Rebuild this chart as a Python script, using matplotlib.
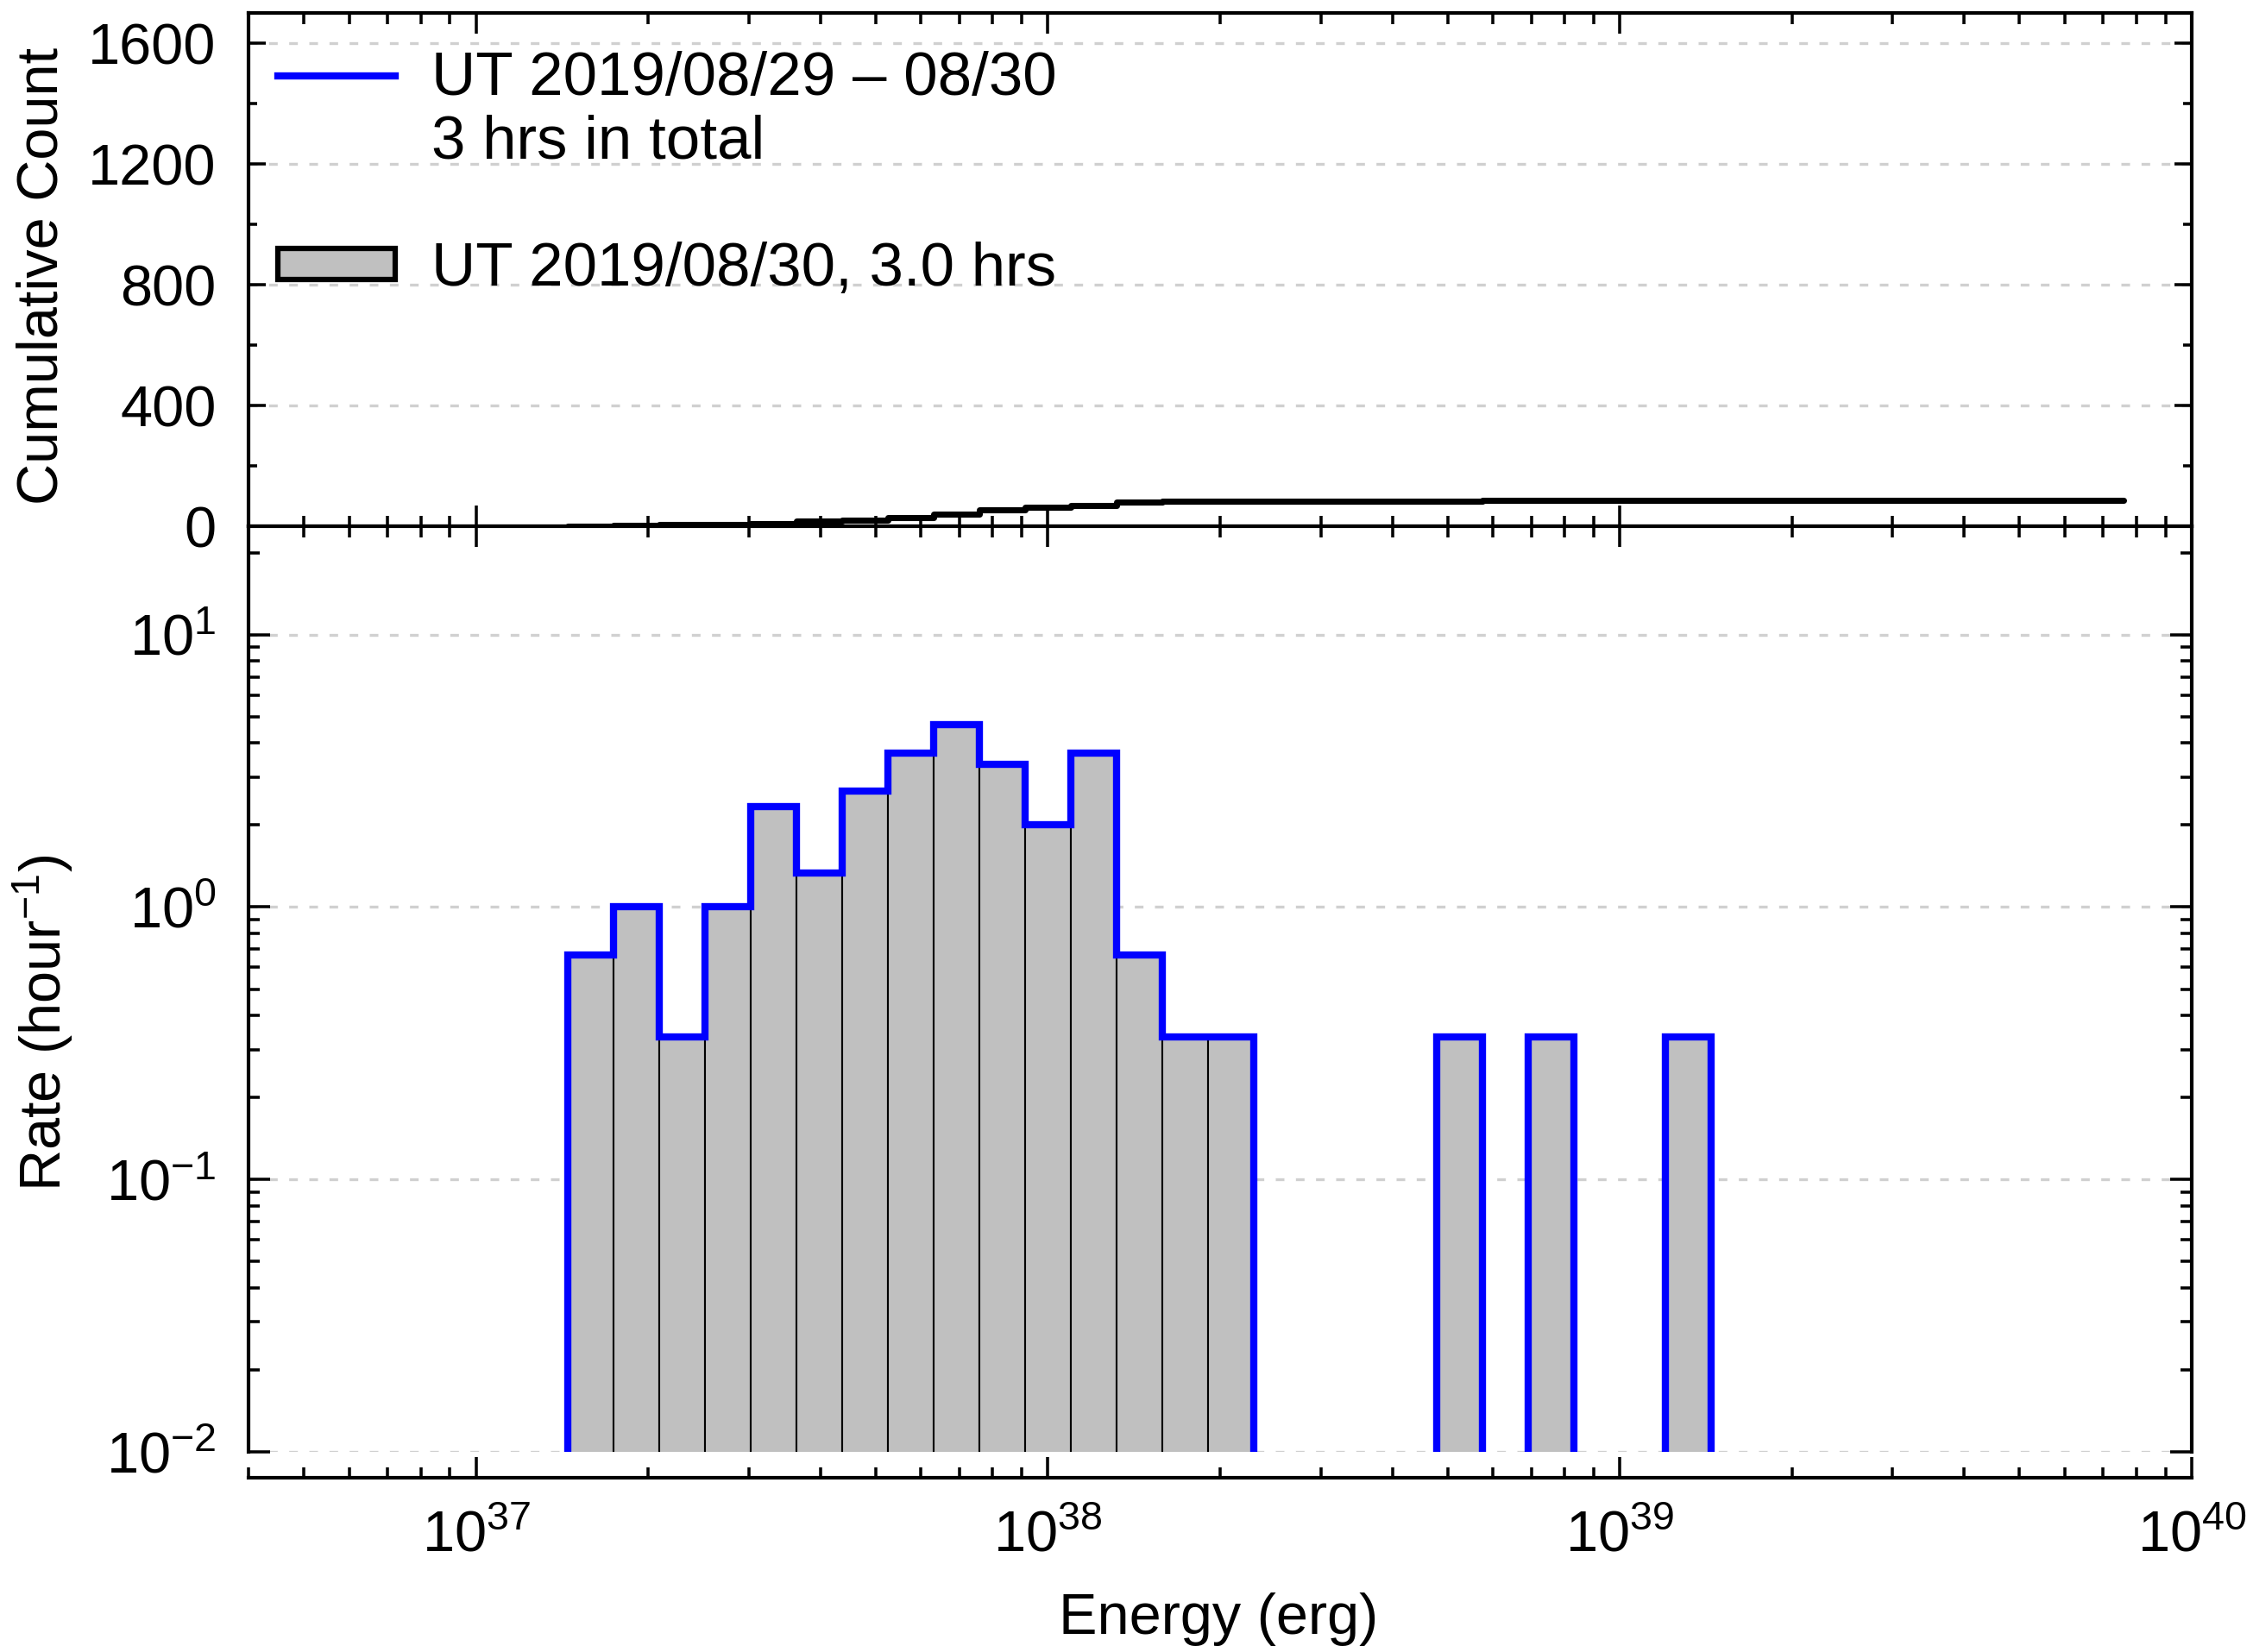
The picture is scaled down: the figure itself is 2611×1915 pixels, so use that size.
import numpy as np
import matplotlib
matplotlib.use("Agg")
import matplotlib.pyplot as plt
from matplotlib.ticker import LogLocator, NullFormatter, MultipleLocator
from matplotlib.lines import Line2D
from matplotlib.patches import Patch

plt.rcParams['font.family'] = ['Liberation Sans', 'DejaVu Sans']
plt.rcParams['mathtext.fontset'] = 'custom'
plt.rcParams['mathtext.rm'] = 'Liberation Sans'
plt.rcParams['mathtext.it'] = 'Liberation Sans:italic'
plt.rcParams['mathtext.bf'] = 'Liberation Sans:bold'

# Flare energy binning (log10 erg) and number of events in each bin
log_edge_first = 37.16
log_bin_width = 0.08
event_counts = [2, 3, 1, 3, 7, 4, 8, 11, 14, 10, 6, 11, 2, 1, 1,
                0, 0, 0, 0, 1, 0, 1, 0, 0, 1]
obs_hours = 3.0
cumulative_end_energy = 7.6e39

label_span = "UT 2019/08/29 – 08/30"
label_total = "3 hrs in total"
label_night = "UT 2019/08/30, 3.0 hrs"

counts = np.array(event_counts, dtype=float)
edges = 10 ** (log_edge_first + log_bin_width * np.arange(len(counts) + 1))
rates = counts / obs_hours
cumulative = np.concatenate([[0.0], np.cumsum(counts)])

x_range = (4e36, 1e40)
count_range = (0, 1700)
rate_range = (1e-2, 25)

W, H = 2611, 1915
DPI = 300
fig = plt.figure(figsize=(W / DPI, H / DPI), dpi=DPI)
left, right = 288 / W, 2540 / W
y_top, y_mid, y_bot = 1 - 15 / H, 1 - 610 / H, 1 - 1683 / H
ax_cum = fig.add_axes([left, y_mid, right - left, y_top - y_mid])
ax_rate = fig.add_axes([left, y_bot, right - left, y_mid - y_bot])

FS = 16
FS_LEG = 17
SPINE_W = 1.0
TICK_W = 0.85
grid_kw = dict(color='#d0d0d0', linestyle=(0, (3, 4)), linewidth=0.8)

# ---- upper panel: cumulative count ----
ax_cum.set_xscale('log')
ax_cum.set_xlim(*x_range)
ax_cum.set_ylim(*count_range)
ax_cum.yaxis.set_major_locator(MultipleLocator(400))
ax_cum.yaxis.set_minor_locator(MultipleLocator(200))
ax_cum.grid(axis='y', which='major', **grid_kw)
ax_cum.step(np.append(edges, cumulative_end_energy),
            np.append(cumulative, cumulative[-1]),
            where='post', color='black', lw=1.7,
            solid_capstyle='round', zorder=3)

ax_cum.tick_params(which='both', direction='in', top=True, right=True,
                   bottom=True, left=True, width=TICK_W)
ax_cum.tick_params(axis='y', which='major', length=4.8, labelsize=FS, pad=9)
ax_cum.tick_params(axis='y', which='minor', length=2.4)
ax_cum.tick_params(axis='x', which='major', length=5.8, labelbottom=False)
ax_cum.tick_params(axis='x', which='minor', length=3.0, labelbottom=False)
ax_cum.xaxis.set_major_locator(LogLocator(base=10))
ax_cum.xaxis.set_minor_locator(LogLocator(base=10, subs=np.arange(2, 10)))
ax_cum.xaxis.set_minor_formatter(NullFormatter())
for sp in ax_cum.spines.values():
    sp.set_linewidth(SPINE_W)

ax_cum.set_ylabel('Cumulative Count', fontsize=FS)
ax_cum.yaxis.set_label_coords(-0.1057, 0.487)
ax_cum.yaxis.label.set_va('center')

legend_handles = [
    Line2D([], [], color='blue', lw=2.0),
    Line2D([], [], linestyle='none'),
    Line2D([], [], linestyle='none'),
    Patch(facecolor='#c0c0c0', edgecolor='black', linewidth=1.5),
]
legend_labels = [label_span, label_total, ' ', label_night]
ax_cum.legend(legend_handles, legend_labels, loc='upper left',
              bbox_to_anchor=(0.0151, 0.926), frameon=False, fontsize=FS_LEG,
              handlelength=1.92, handleheight=0.4, handletextpad=0.59,
              labelspacing=0.11, borderpad=0, borderaxespad=0)

# ---- lower panel: rate histogram ----
ax_rate.set_xscale('log')
ax_rate.set_yscale('log')
ax_rate.set_xlim(*x_range)
ax_rate.set_ylim(*rate_range)
ax_rate.grid(axis='y', which='major', **grid_kw)

nz = np.flatnonzero(counts > 0)
widths = np.diff(edges)
ax_rate.bar(edges[:-1][nz], rates[nz], width=widths[nz], align='edge',
            color='#c0c0c0', edgecolor='black', linewidth=0.5, zorder=2)

# blue outline drawn around each contiguous group of populated bins
runs = np.split(nz, np.flatnonzero(np.diff(nz) > 1) + 1)
for run in runs:
    ax_rate.stairs(rates[run], edges[run[0]:run[-1] + 2],
                   baseline=rate_range[0], color='blue', lw=2.0, zorder=4)

ax_rate.spines['bottom'].set_position(('outward', 7.2))
for sp in ax_rate.spines.values():
    sp.set_linewidth(SPINE_W)

ax_rate.yaxis.set_major_locator(LogLocator(base=10))
ax_rate.yaxis.set_minor_locator(LogLocator(base=10, subs=np.arange(2, 10)))
ax_rate.yaxis.set_minor_formatter(NullFormatter())
ax_rate.xaxis.set_major_locator(LogLocator(base=10))
ax_rate.xaxis.set_minor_locator(LogLocator(base=10, subs=np.arange(2, 10)))
ax_rate.xaxis.set_minor_formatter(NullFormatter())

ax_rate.tick_params(which='both', direction='in', top=True, right=True,
                    bottom=True, left=True, width=TICK_W)
ax_rate.tick_params(axis='y', which='major', length=6.0, labelsize=FS, pad=9)
ax_rate.tick_params(axis='y', which='minor', length=3.1)
ax_rate.tick_params(axis='x', which='major', length=5.8, labelsize=FS, pad=9)
ax_rate.tick_params(axis='x', which='minor', length=3.0)

ax_rate.set_ylabel('Rate (hour$^{-1}$)', fontsize=FS)
ax_rate.yaxis.set_label_coords(-0.1057, 0.463)
ax_rate.yaxis.label.set_va('center')
ax_rate.set_xlabel('Energy (erg)', fontsize=FS)
ax_rate.xaxis.set_label_coords(0.499, -0.181)
ax_rate.xaxis.label.set_va('center')

fig.savefig('out.png', dpi=DPI)
